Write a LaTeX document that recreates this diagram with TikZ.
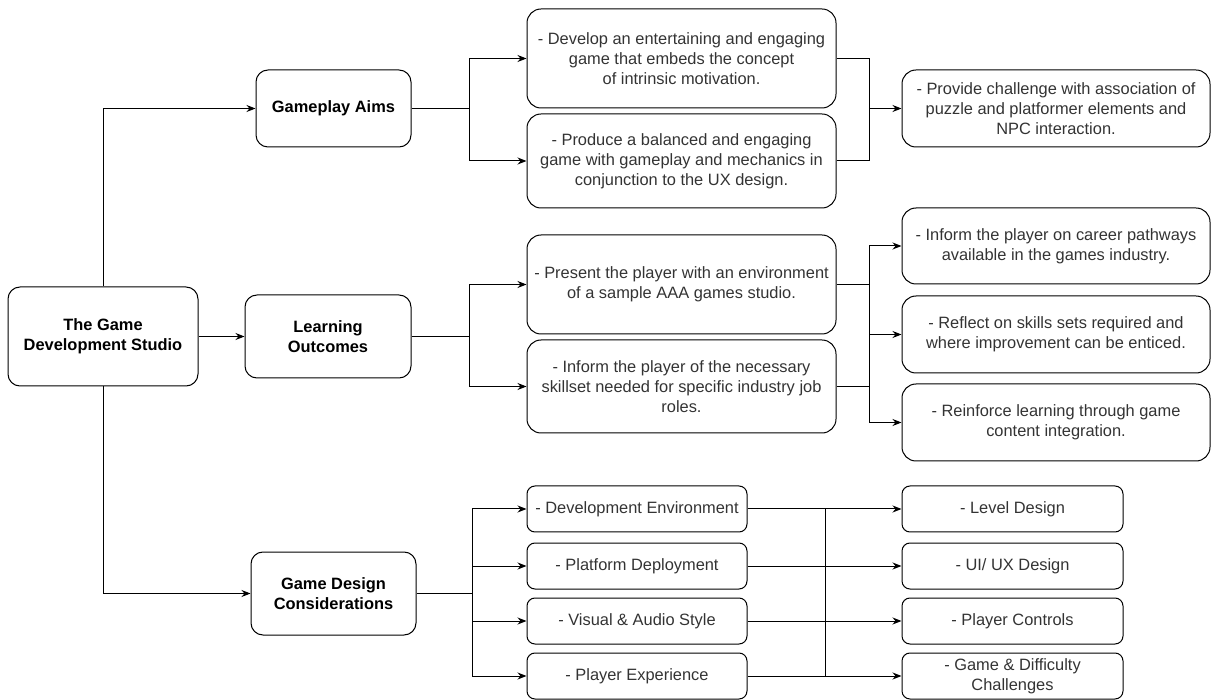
\documentclass[tikz,border=0pt]{standalone}
\usepackage{fontspec}
\setmainfont{Liberation Sans}
\usetikzlibrary{positioning, arrows.meta, calc}

\begin{document}
\begin{tikzpicture}[
    x=1pt, y=-1pt,
    main/.style={rectangle, draw, line width=1pt, rounded corners=12pt, align=center, inner sep=0pt, font=\fontsize{16.4}{19.5}\selectfont\bfseries},
    item/.style={rectangle, draw, line width=1pt, rounded corners=14pt, align=center, inner sep=0pt, text=black!80, minimum width=309pt, font=\fontsize{16.4}{20}\selectfont},
    entry/.style={item, rounded corners=8pt, minimum width=220pt, minimum height=46pt},
    arrow/.style={-{Stealth[length=9pt, width=7pt]}, line width=1pt},
    link/.style={line width=1pt}
]

\useasboundingbox (0, 0) rectangle (1211, 700);

% Root
\node[main, minimum width=190pt, minimum height=99pt] (studio) at (103, 336.5) {The Game\\Development Studio};

% First level
\node[main, minimum width=155pt, minimum height=77pt] (aims) at (333.5, 108.5) {Gameplay Aims};
\node[main, minimum width=166pt, minimum height=83pt] (outcomes) at (328, 336.5) {Learning\\Outcomes};
\node[main, minimum width=165pt, minimum height=83pt] (design) at (333.5, 593.5) {Game Design\\Considerations};

% ============ GAMEPLAY AIMS ============
\node[item, minimum height=99pt] (aims-goal1) at (681.5, 58.5) {- Develop an entertaining and engaging\\game that embeds the concept\\of intrinsic motivation.};
\node[item, minimum height=94pt] (aims-goal2) at (681.5, 161) {- Produce a balanced and engaging\\game with gameplay and mechanics in\\conjunction to the UX design.};
\node[item, minimum width=308pt, minimum height=77pt] (aims-result) at (1056, 108.5) {- Provide challenge with association of\\puzzle and platformer elements and\\NPC interaction.};

% ============ LEARNING OUTCOMES ============
\node[item, minimum height=99pt] (outcomes-goal1) at (681.5, 284.5) {- Present the player with an environment\\of a sample AAA games studio.};
\node[item, minimum height=93pt] (outcomes-goal2) at (681.5, 386.5) {- Inform the player of the necessary\\skillset needed for specific industry job\\roles.};
\node[item, minimum width=308pt, minimum height=76pt] (outcomes-result1) at (1056, 246) {- Inform the player on career pathways\\available in the games industry.};
\node[item, minimum width=308pt, minimum height=77pt] (outcomes-result2) at (1056, 334.5) {- Reflect on skills sets required and\\where improvement can be enticed.};
\node[item, minimum width=308pt, minimum height=77pt] (outcomes-result3) at (1056, 422.5) {- Reinforce learning through game\\content integration.};

% ============ GAME DESIGN ============
\node[entry] (design-item1) at (637, 509) {- Development Environment};
\node[entry] (design-item2) at (637, 566) {- Platform Deployment};
\node[entry] (design-item3) at (637, 621) {- Visual \& Audio Style};
\node[entry] (design-item4) at (637, 676) {- Player Experience};

\node[entry, minimum width=221pt] (design-area1) at (1012.5, 509) {- Level Design};
\node[entry, minimum width=221pt] (design-area2) at (1012.5, 566) {- UI/ UX Design};
\node[entry, minimum width=221pt] (design-area3) at (1012.5, 621) {- Player Controls};
\node[entry, minimum width=221pt] (design-area4) at (1012.5, 676) {- Game \& Difficulty\\Challenges};

% Junctions
\coordinate (aims-split) at (469, 108.5);
\coordinate (aims-merge) at (869, 108.5);
\coordinate (outcomes-split) at (469, 336.5);
\coordinate (outcomes-merge) at (869, 334.5);
\coordinate (design-split) at (472, 593.5);
\coordinate (design-bus) at (825, 509);
\coordinate (design-bus-end) at (825, 676);

% Arrows from root
\draw[arrow] (studio.north) |- (aims.west);
\draw[arrow] (studio.east) -- (outcomes.west);
\draw[arrow] (studio.south) |- (design.west);

% Arrows for gameplay aims
\draw[link] (aims.east) -- (aims-split);
\draw[arrow] (aims-split) |- (aims-goal1.west);
\draw[arrow] (aims-split) |- (aims-goal2.west);

\draw[link] (aims-goal1.east) -| (aims-merge);
\draw[link] (aims-goal2.east) -| (aims-merge);
\draw[arrow] (aims-merge) -- (aims-result.west);

% Arrows for learning outcomes
\draw[link] (outcomes.east) -- (outcomes-split);
\draw[arrow] (outcomes-split) |- (outcomes-goal1.west);
\draw[arrow] (outcomes-split) |- (outcomes-goal2.west);

\draw[link] (outcomes-goal1.east) -- (outcomes-goal1.east -| outcomes-merge);
\draw[link] (outcomes-goal2.east) -- (outcomes-goal2.east -| outcomes-merge);
\draw[arrow] (outcomes-merge) |- (outcomes-result1.west);
\draw[arrow] (outcomes-merge) -- (outcomes-result2.west);
\draw[arrow] (outcomes-merge) |- (outcomes-result3.west);

% Arrows for game design
\draw[link] (design.east) -- (design-split);
\draw[arrow] (design-split) |- (design-item1.west);
\draw[arrow] (design-split) |- (design-item2.west);
\draw[arrow] (design-split) |- (design-item3.west);
\draw[arrow] (design-split) |- (design-item4.west);

\draw[arrow] (design-item1) -- (design-area1);
\draw[arrow] (design-item2) -- (design-area2);
\draw[arrow] (design-item3) -- (design-area3);
\draw[arrow] (design-item4) -- (design-area4);
\draw[link] (design-bus) -- (design-bus-end);

\end{tikzpicture}
\end{document}
